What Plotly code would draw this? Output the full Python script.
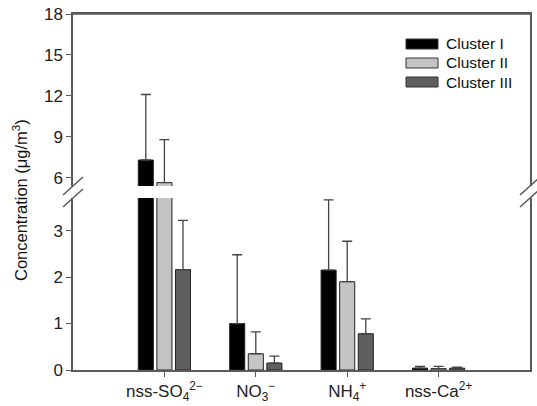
import plotly.graph_objects as go

categories = ["nss-SO<sub>4</sub><sup>2−</sup>", "NO<sub>3</sub><sup>−</sup>",
              "NH<sub>4</sub><sup>+</sup>", "nss-Ca<sup>2+</sup>"]
series_names = ["Cluster I", "Cluster II", "Cluster III"]
cluster1 = [7.3, 1.0, 2.15, 0.04]
cluster1_err = [12.1, 2.48, 3.66, 0.08]
cluster2 = [5.65, 0.35, 1.9, 0.03]
cluster2_err = [8.8, 0.82, 2.77, 0.08]
cluster3 = [2.16, 0.15, 0.78, 0.04]
cluster3_err = [3.22, 0.3, 1.1, 0.06]
lower_ticks = [0, 1, 2, 3]
upper_ticks = [6, 9, 12, 15, 18]

values = [cluster1, cluster2, cluster3]
tops = [cluster1_err, cluster2_err, cluster3_err]
colors = ["#000000", "#c4c4c4", "#5f5f5f"]
xs = list(range(len(categories)))

FONT = "Liberation Sans, Arial, Helvetica, sans-serif"
AX = "#5a5a5a"

fig = go.Figure()
for axis_y in ["y", "y2"]:
    for name, v, t, c in zip(series_names, values, tops, colors):
        fig.add_trace(go.Bar(
            x=xs, y=v, name=name, marker=dict(color=c, line=dict(color="#222222", width=1)),
            error_y=dict(type="data", symmetric=False, array=[b - a for a, b in zip(v, t)],
                         arrayminus=[0] * len(v), color="#444444", thickness=1.3, width=5),
            xaxis="x" if axis_y == "y" else "x2", yaxis=axis_y, showlegend=False,
        ))

low_dom = [0, 0.483]
up_dom = [0.517, 1]

fig.update_layout(
    width=537, height=406,
    margin=dict(l=73, r=7, t=14, b=36, autoexpand=False),
    paper_bgcolor="white", plot_bgcolor="white",
    barmode="group", bargap=0.39, bargroupgap=0.19,
    font=dict(family=FONT, size=17, color="#222222"),
    xaxis=dict(domain=[0, 1], anchor="y", range=[-1, 4], tickvals=xs, ticktext=categories,
               showline=True, linecolor=AX, linewidth=1.5, ticks="outside", ticklen=5,
               tickcolor=AX, showgrid=False, zeroline=False, tickfont=dict(size=17),
               automargin=False),
    xaxis2=dict(domain=[0, 1], anchor="y2", range=[-1, 4], matches="x", side="top",
                showline=True, linecolor=AX, linewidth=1.5, ticks="", showticklabels=False,
                showgrid=False, zeroline=False, automargin=False),
    yaxis=dict(domain=low_dom, anchor="x", range=[0, 3.7], tickvals=lower_ticks,
               showline=True, mirror=True, linecolor=AX, linewidth=1.5, ticks="outside",
               ticklen=5, tickcolor=AX, showgrid=False, zeroline=False, tickfont=dict(size=17),
               automargin=False),
    yaxis2=dict(domain=up_dom, anchor="x2", range=[5.4, 18], tickvals=upper_ticks,
                showline=True, mirror=True, linecolor=AX, linewidth=1.5, ticks="outside",
                ticklen=5, tickcolor=AX, showgrid=False, zeroline=False, tickfont=dict(size=17),
                automargin=False),
)

# axis break marks
plot_w = 537 - 73 - 7
plot_h = 406 - 14 - 36
def px_x(dx):
    return dx / plot_w
def px_y(dy):
    return dy / plot_h
shapes = [dict(type="line", xref="paper", yref="paper", x0=0, x1=1, y0=1, y1=1,
               line=dict(color=AX, width=1.5))]
for x0 in [0, 1]:
    for yc in [up_dom[0], low_dom[1]]:
        shapes.append(dict(type="line", xref="paper", yref="paper",
                           x0=x0 - px_x(10), y0=yc - px_y(9), x1=x0 + px_x(10), y1=yc + px_y(9),
                           line=dict(color=AX, width=1.5)))

# legend
leg_x0 = px_x(406 - 73)
leg_x1 = px_x(438 - 73)
annotations = []
for i, (name, c) in enumerate(zip(series_names, colors)):
    yc = px_y(370 - (44 + 19 * i))
    shapes.append(dict(type="rect", xref="paper", yref="paper", x0=leg_x0, x1=leg_x1,
                       y0=yc - px_y(5), y1=yc + px_y(5), fillcolor=c,
                       line=dict(color="#333333", width=1)))
    annotations.append(dict(xref="paper", yref="paper", x=px_x(444 - 73), y=yc, text=name,
                            showarrow=False, xanchor="left", yanchor="middle",
                            font=dict(size=15.5, color="#111111")))

annotations.append(dict(xref="paper", yref="paper", x=px_x(20 - 73), y=px_y(370 - 200),
                        text="Concentration (μg/m<sup>3</sup>)", textangle=-90,
                        showarrow=False, xanchor="center", yanchor="middle",
                        font=dict(size=16.5, color="#111111")))

fig.update_layout(shapes=shapes, annotations=annotations)
fig.write_html("out.html", config={"displayModeBar": False},
               post_script="document.body.style.margin='0';document.body.style.overflow='hidden';")
